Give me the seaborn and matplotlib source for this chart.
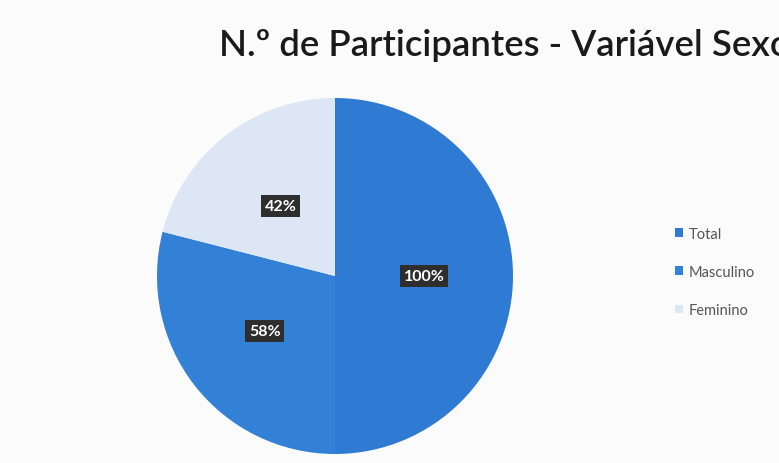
import matplotlib
matplotlib.use("Agg")
import matplotlib.pyplot as plt
import seaborn as sns

categories = ["Total", "Masculino", "Feminino"]
values = [100, 58, 42]
value_labels = ["100%", "58%", "42%"]
title = "N.º de Participantes - Variável Sexo"

sns.set_theme(style="white")
plt.rcParams['font.family'] = ['Lato', 'DejaVu Sans']

colors = ["#2F7BD3", "#3381D6", "#DCE6F5"]

W, H = 779, 464
fig = plt.figure(figsize=(W / 100, H / 100), dpi=100)
fig.patch.set_facecolor("#FBFBFB")

cx, cy, r = 335, 277, 178
ax = fig.add_axes([(cx - r) / W, (H - cy - r) / H, 2 * r / W, 2 * r / H])
ax.set_facecolor("none")

wedges, texts, autotexts = ax.pie(
    values, colors=colors, startangle=90, counterclock=False,
    autopct="%1.0f", pctdistance=0.5,
    wedgeprops=dict(linewidth=0),
)
for at, lab in zip(autotexts, value_labels):
    at.set_text(lab)
    at.set_color("white")
    at.set_fontweight("bold")
    at.set_fontsize(11.5)
    at.set_bbox(dict(boxstyle="square,pad=0.25", facecolor="#2E2E2E", edgecolor="none"))
ax.set_xlim(-1, 1)
ax.set_ylim(-1, 1)
ax.set_aspect("equal")
ax.axis("off")

fig.text(219 / W, 1 - 56 / H, title, fontsize=26.3, va="baseline", ha="left",
         color="#1A1A1A", fontweight="semibold")

leg = fig.legend(wedges, categories, loc="center left",
                 bbox_to_anchor=(662 / W, 1 - 273 / H), frameon=False,
                 handlelength=0.55, handleheight=0.55, handletextpad=0.4,
                 labelspacing=1.65, fontsize=10.5, labelcolor="#555555")

fig.savefig("out.png", dpi=100, facecolor=fig.get_facecolor())
